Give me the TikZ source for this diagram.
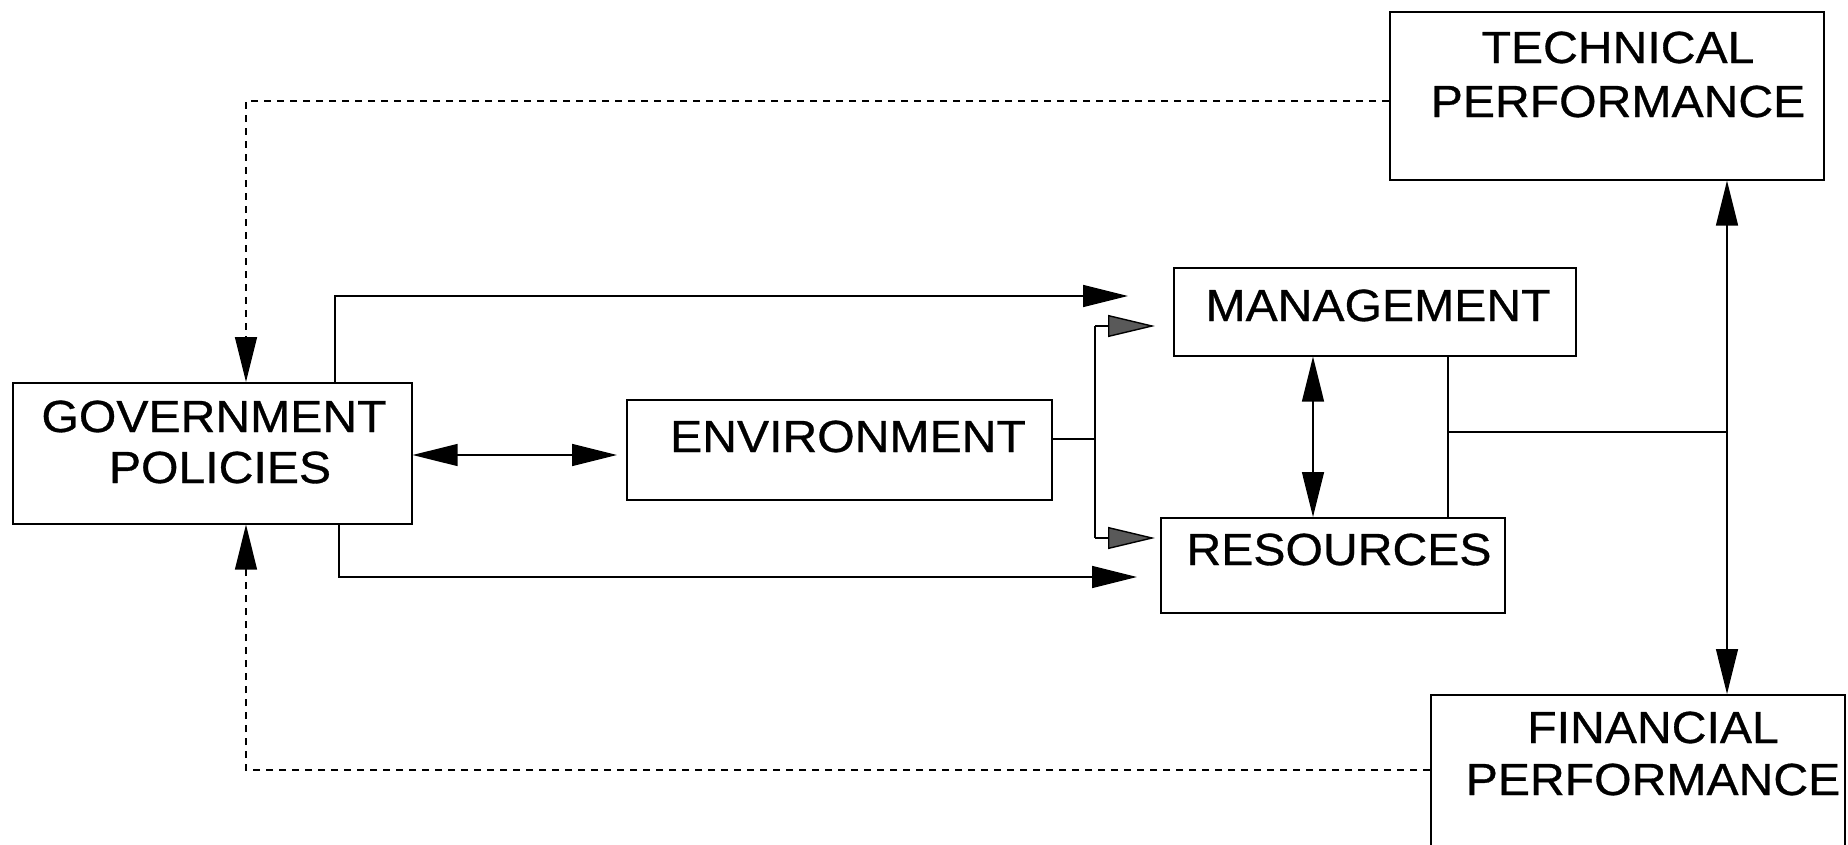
\documentclass[tikz,border=0pt]{standalone}
\usepackage{fontspec}
\setmainfont{Liberation Sans}[FakeStretch=1.07,FakeBold=0.7]
\usetikzlibrary{arrows.meta}
\begin{document}
\begin{tikzpicture}[x=1pt,y=-1pt,
  box/.style={draw,line width=1.6pt,inner sep=0pt,anchor=north west},
  lbl/.style={anchor=base,inner sep=0pt,font=\fontsize{45}{53}\selectfont},
  conn/.style={line width=1.4pt},
  dashconn/.style={line width=1.4pt,dash pattern=on 7pt off 6pt},
  tip/.style={-{Triangle[length=45pt,width=22pt]}},
  tips/.style={{Triangle[length=45pt,width=22pt]}-{Triangle[length=45pt,width=22pt]}},
  graytip/.style={-{Triangle[length=47pt,width=22pt,fill=black!65]}}]
\useasboundingbox (0,0) rectangle (1848,844);
% boxes
\node[box,minimum width=399pt,minimum height=141pt] (gov) at (12,382) {};
\node[box,minimum width=425pt,minimum height=100pt] (env) at (626,399) {};
\node[box,minimum width=402pt,minimum height=88pt] (mgmt) at (1173,267) {};
\node[box,minimum width=344pt,minimum height=95pt] (res) at (1160,517) {};
\node[box,minimum width=434pt,minimum height=168pt] (tech) at (1389,11) {};
\node[box,minimum width=414pt,minimum height=180pt] (fin) at (1430,694) {};
% labels
\node[lbl] (gov1) at (214,432) {GOVERNMENT};
\node[lbl] (gov2) at (220,483) {POLICIES};
\node[lbl] (envl) at (848,452) {ENVIRONMENT};
\node[lbl] (mgmtl) at (1378,321) {MANAGEMENT};
\node[lbl] (resl) at (1339,565) {RESOURCES};
\node[lbl] (tech1) at (1618,63) {TECHNICAL};
\node[lbl] (tech2) at (1618,117) {PERFORMANCE};
\node[lbl] (fin1) at (1653,743) {FINANCIAL};
\node[lbl] (fin2) at (1653,795) {PERFORMANCE};
% coordinates
\coordinate (ttop) at (246,101);
\coordinate (fbot) at (246,770);
\coordinate (mtip) at (1128,296);
\coordinate (rtip) at (1137,577);
\coordinate (ej) at (1095,439);
\coordinate (ejt) at (1095,326);
\coordinate (ejb) at (1095,538);
\coordinate (mj) at (1448,432);
\coordinate (vj) at (1727,432);
% dashed feedback
\draw[dashconn,tip] (tech.west |- ttop) -- (ttop) -- (ttop |- gov.north);
\draw[dashconn,tip] (fin.west |- fbot) -- (fbot) -- (fbot |- gov.south);
% government to management / resources
\draw[conn,tip] (gov.north -| 335,0) -- (335,296) -- (mtip);
\draw[conn,tip] (gov.south -| 339,0) -- (339,577) -- (rtip);
% government <-> environment
\draw[conn,tips] (gov.east |- 0,455) -- ([xshift=-9pt]env.west |- 0,455);
% environment split
\draw[conn] (env.east |- ej) -- (ej);
\draw[conn] (ejt) -- (ejb);
\draw[conn,graytip] (ejt) -- (1155,326);
\draw[conn,graytip] (ejb) -- (1155,538);
% management <-> resources
\draw[conn,tips] (mgmt.south -| 1313,0) -- (res.north -| 1313,0);
% combined link
\draw[conn] (mgmt.south -| mj) -- (res.north -| mj);
\draw[conn] (mj) -- (vj);
% technical <-> financial
\draw[conn,tips] (tech.south -| vj) -- (fin.north -| vj);
\end{tikzpicture}
\end{document}
